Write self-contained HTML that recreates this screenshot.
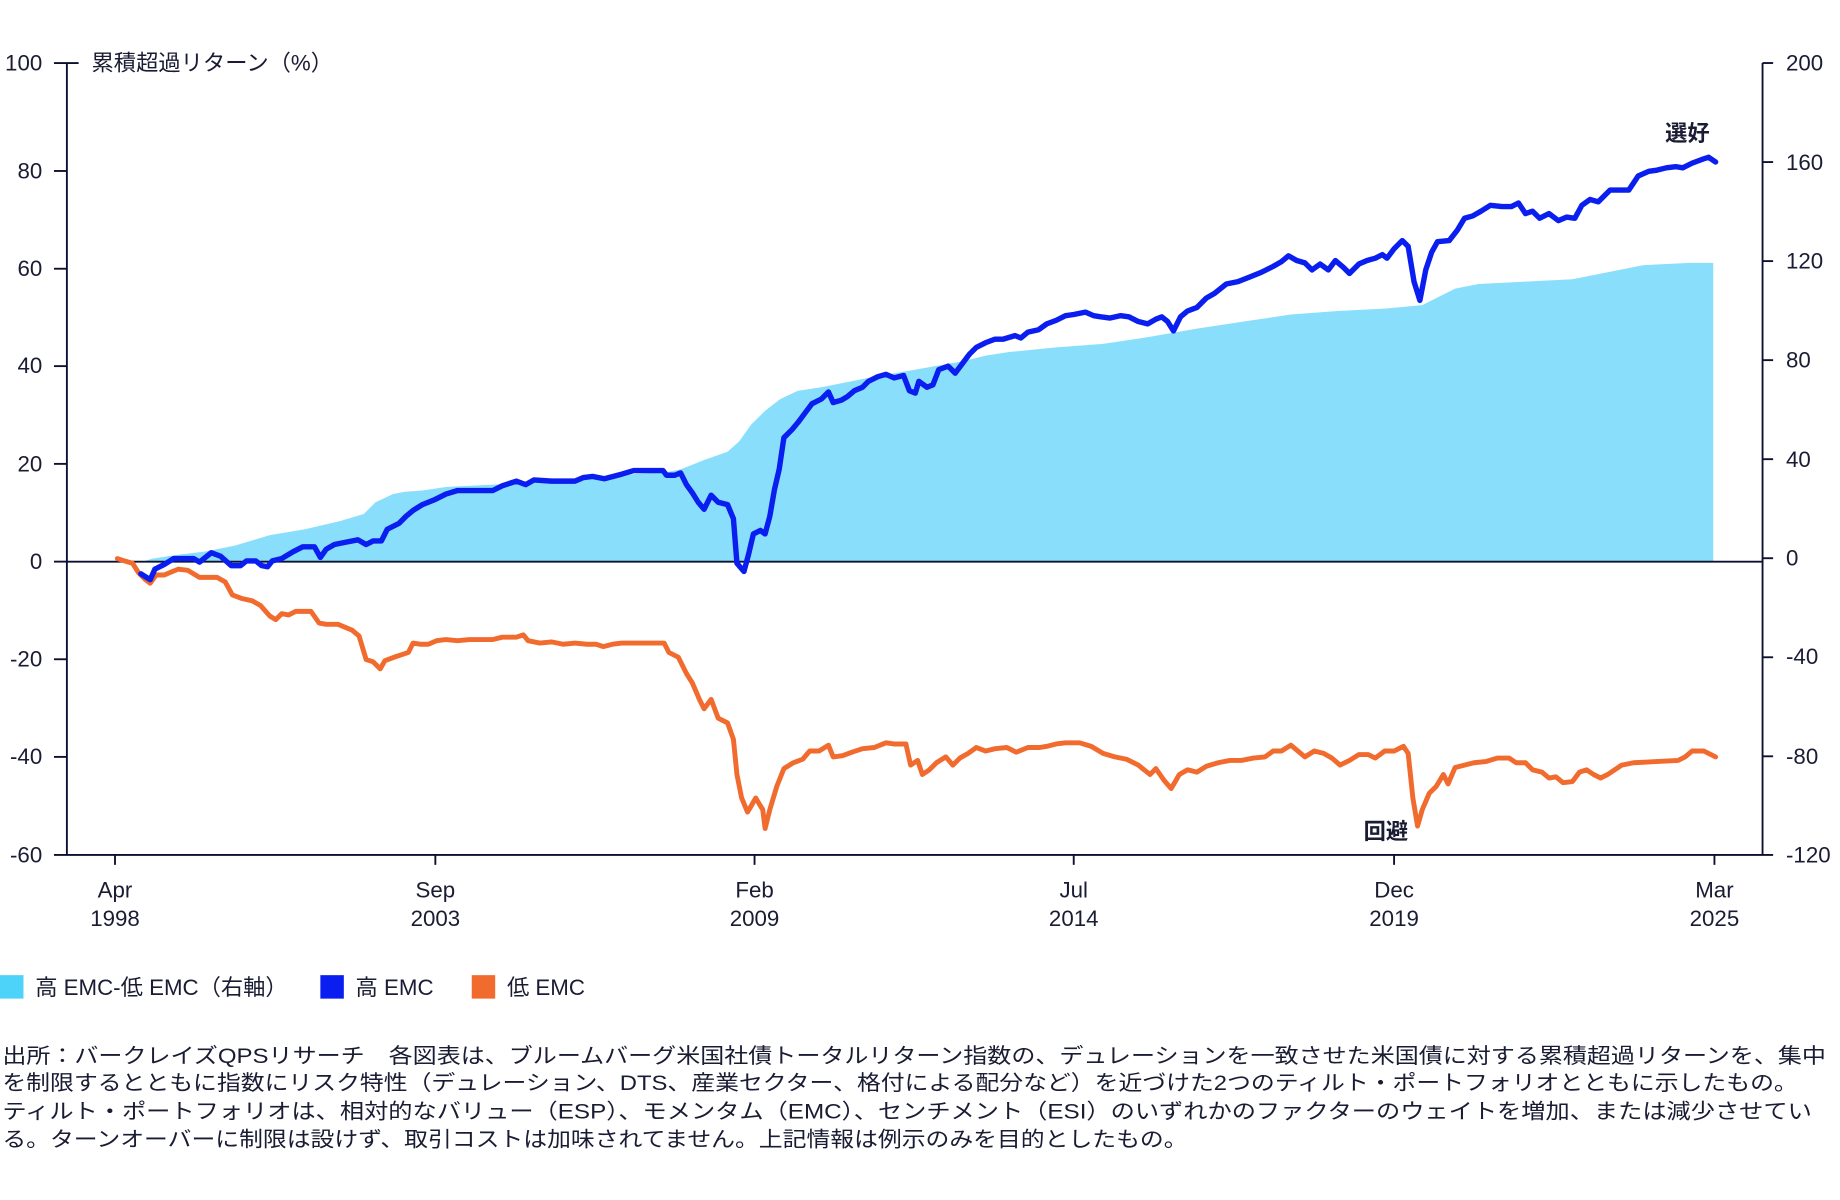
<!DOCTYPE html>
<html><head><meta charset="utf-8"><style>html,body{margin:0;padding:0;background:#fff}svg{display:block}text{font-family:"Liberation Sans","Noto Sans CJK JP",sans-serif;fill:#1a1c33}</style></head><body>
<svg width="1840" height="1200" viewBox="0 0 1568 1022.6" xmlns="http://www.w3.org/2000/svg">
<polygon fill="#89dffb" points="120,479 130,476 150,473 175,470 200,465 230,456 260,451 290,444 310,438 320,428 335,421 345,419 360,418 380,415 420,413 480,410 540,404 570,402 580,400 600,392 620,385 630,376 640,362 652,350 665,340 680,333 700,330 740,322 780,315 820,308 840,303 860,300 900,296 940,293 980,287 1020,280 1060,274 1100,268 1140,265 1180,263 1212,260 1240,246 1260,242 1300,240 1340,238 1370,232 1400,226 1440,224 1460,224 1460,479"/>
<g stroke="#0d1030" stroke-width="1.6" fill="none">
<line x1="57" y1="53.7" x2="57" y2="728.6"/><line x1="1502" y1="53.7" x2="1502" y2="728.6"/>
<line x1="46" y1="728.6" x2="1511" y2="728.6"/><line x1="57" y1="478.6" x2="1502" y2="478.6"/>
<line x1="46" y1="53.7" x2="67" y2="53.7"/>
<line x1="46" y1="145.7" x2="57" y2="145.7"/><line x1="46" y1="229" x2="57" y2="229"/><line x1="46" y1="312" x2="57" y2="312"/><line x1="46" y1="395.3" x2="57" y2="395.3"/><line x1="46" y1="478.6" x2="57" y2="478.6"/><line x1="46" y1="561.8" x2="57" y2="561.8"/><line x1="46" y1="645" x2="57" y2="645"/>
<line x1="1502" y1="53.7" x2="1511" y2="53.7"/><line x1="1502" y1="138.1" x2="1511" y2="138.1"/><line x1="1502" y1="222.5" x2="1511" y2="222.5"/><line x1="1502" y1="306.9" x2="1511" y2="306.9"/><line x1="1502" y1="391.3" x2="1511" y2="391.3"/><line x1="1502" y1="475.7" x2="1511" y2="475.7"/><line x1="1502" y1="560.1" x2="1511" y2="560.1"/><line x1="1502" y1="644.5" x2="1511" y2="644.5"/>
<line x1="98" y1="728.6" x2="98" y2="737"/><line x1="371" y1="728.6" x2="371" y2="737"/><line x1="643" y1="728.6" x2="643" y2="737"/><line x1="915" y1="728.6" x2="915" y2="737"/><line x1="1188" y1="728.6" x2="1188" y2="737"/><line x1="1461" y1="728.6" x2="1461" y2="737"/>
</g>
<polyline fill="none" stroke="#f26b2e" stroke-width="4.2" stroke-linejoin="round" stroke-linecap="round" points="100,476 106,478 113,480 118,488 124,494 128,497 133,490 140,490 147,487 152,485 160,486 170,492 185,492 192,496 198,507 206,510 215,512 222,516 230,525 235,528 240,523 246,524 252,521 265,521 272,531 278,532 288,532 300,537 306,542 312,562 318,564 324,570 328,563 336,560 342,558 348,556 352,548 358,549 365,549 372,546 380,545 390,546 400,545 420,545 428,543 440,543 446,541 450,546 460,548 470,547 480,549 490,548 500,549 508,549 514,551 522,549 530,548 566,548 570,556 578,560 585,574 590,582 596,596 600,604 606,596 612,612 620,616 625,630 628,660 632,680 637,692 640,687 644,680 650,690 652,706 656,690 662,670 668,655 676,650 684,647 690,640 698,640 706,635 710,645 718,644 726,641 735,638 745,637 755,633 762,634 772,634 776,652 782,648 786,660 792,656 798,650 806,645 812,652 818,646 825,642 832,637 840,640 848,638 858,637 866,641 876,637 886,637 892,636 900,634 908,633 920,633 930,636 940,642 950,645 960,647 970,652 980,660 985,655 992,665 998,672 1005,660 1012,656 1020,658 1028,653 1038,650 1048,648 1058,648 1068,646 1078,645 1085,640 1092,640 1100,635 1106,640 1112,645 1120,640 1128,642 1135,646 1142,652 1150,648 1158,643 1166,643 1172,646 1180,640 1188,640 1196,636 1200,642 1204,680 1208,704 1212,690 1218,676 1224,670 1230,660 1234,668 1240,654 1248,652 1256,650 1266,649 1276,646 1286,646 1292,650 1300,650 1306,656 1314,658 1320,663 1326,662 1332,667 1340,666 1346,658 1352,656 1358,660 1364,663 1370,660 1376,656 1382,652 1392,650 1430,648 1436,645 1442,640 1452,640 1458,643 1462,645"/>
<polyline fill="none" stroke="#0a1ef0" stroke-width="4.6" stroke-linejoin="round" stroke-linecap="round" points="120,489 128,494 132,485 140,481 148,476 165,476 170,479 180,471 188,474 197,482 205,482 210,478 218,478 223,482 228,483 232,478 240,476 250,470 258,466 268,466 273,475 278,468 285,464 295,462 305,460 312,464 318,461 325,461 330,451 340,446 346,440 352,435 360,430 370,426 380,421 390,418 420,418 428,414 440,410 448,413 455,409 470,410 490,410 497,407 505,406 515,408 530,404 540,401 565,401 568,405 575,405 580,403 585,413 590,420 595,428 600,434 606,422 612,428 620,430 625,442 628,480 634,487 638,472 642,455 648,452 652,455 656,440 660,417 664,400 668,373 675,366 680,360 686,352 692,344 700,340 706,334 710,343 717,341 722,338 728,333 735,330 740,325 748,321 755,319 762,322 770,320 775,333 780,335 783,325 790,330 795,328 800,315 808,312 814,318 820,310 826,302 832,296 840,292 848,289 855,289 865,286 870,288 876,283 885,281 892,276 900,273 908,269 915,268 925,266 932,269 938,270 946,271 955,269 962,270 970,274 978,276 985,272 990,270 995,274 1000,282 1006,270 1012,265 1020,262 1028,254 1035,250 1045,242 1055,240 1065,236 1075,232 1085,227 1092,223 1098,218 1105,222 1112,224 1118,230 1125,225 1132,230 1138,222 1145,228 1150,233 1158,225 1165,222 1172,220 1178,217 1182,220 1188,212 1195,205 1200,210 1205,240 1210,256 1215,230 1220,215 1225,206 1235,205 1242,196 1248,186 1255,184 1262,180 1270,175 1280,176 1288,176 1294,173 1300,182 1306,180 1312,186 1320,182 1328,188 1335,185 1342,186 1348,175 1355,170 1362,172 1372,162 1388,162 1396,150 1405,146 1412,145 1420,143 1428,142 1434,143 1442,139 1450,136 1456,134 1462,138"/>
<g font-size="19">
<g text-anchor="end"><text x="36" y="60">100</text><text x="36" y="152">80</text><text x="36" y="235">60</text><text x="36" y="318">40</text><text x="36" y="402">20</text><text x="36" y="485">0</text><text x="36" y="568">-20</text><text x="36" y="651">-40</text><text x="36" y="735">-60</text></g>
<g><text x="1522" y="60">200</text><text x="1522" y="145">160</text><text x="1522" y="229">120</text><text x="1522" y="313">80</text><text x="1522" y="398">40</text><text x="1522" y="482">0</text><text x="1522" y="566">-40</text><text x="1522" y="651">-80</text><text x="1522" y="735">-120</text></g>
<text x="78" y="60">累積超過リターン（%）</text>
<g text-anchor="middle"><text x="98" y="765">Apr</text><text x="98" y="789">1998</text><text x="371" y="765">Sep</text><text x="371" y="789">2003</text><text x="643" y="765">Feb</text><text x="643" y="789">2009</text><text x="915" y="765">Jul</text><text x="915" y="789">2014</text><text x="1188" y="765">Dec</text><text x="1188" y="789">2019</text><text x="1461" y="765">Mar</text><text x="1461" y="789">2025</text></g>
<text x="1438" y="120" text-anchor="middle" font-weight="bold">選好</text>
<text x="1181" y="715" text-anchor="middle" font-weight="bold">回避</text>
<rect x="0" y="831" width="20" height="20" fill="#4dd2fa"/><text x="30" y="848">高 EMC-低 EMC（右軸）</text>
<rect x="273" y="831" width="20" height="20" fill="#0a1ef0"/><text x="303" y="848">高 EMC</text>
<rect x="402" y="831" width="20" height="20" fill="#f26b2e"/><text x="432" y="848">低 EMC</text>
</g>
<g font-size="18">
<text x="2" y="906" textLength="1554" lengthAdjust="spacingAndGlyphs">出所：バークレイズQPSリサーチ　各図表は、ブルームバーグ米国社債トータルリターン指数の、デュレーションを一致させた米国債に対する累積超過リターンを、集中</text>
<text x="2" y="929" textLength="1530" lengthAdjust="spacingAndGlyphs">を制限するとともに指数にリスク特性（デュレーション、DTS、産業セクター、格付による配分など）を近づけた2つのティルト・ポートフォリオとともに示したもの。</text>
<text x="2" y="953" textLength="1542" lengthAdjust="spacingAndGlyphs">ティルト・ポートフォリオは、相対的なバリュー（ESP）、モメンタム（EMC）、センチメント（ESI）のいずれかのファクターのウェイトを増加、または減少させてい</text>
<text x="2" y="977" textLength="1010" lengthAdjust="spacingAndGlyphs">る。ターンオーバーに制限は設けず、取引コストは加味されてません。上記情報は例示のみを目的としたもの。</text>
</g>
</svg>
</body></html>
